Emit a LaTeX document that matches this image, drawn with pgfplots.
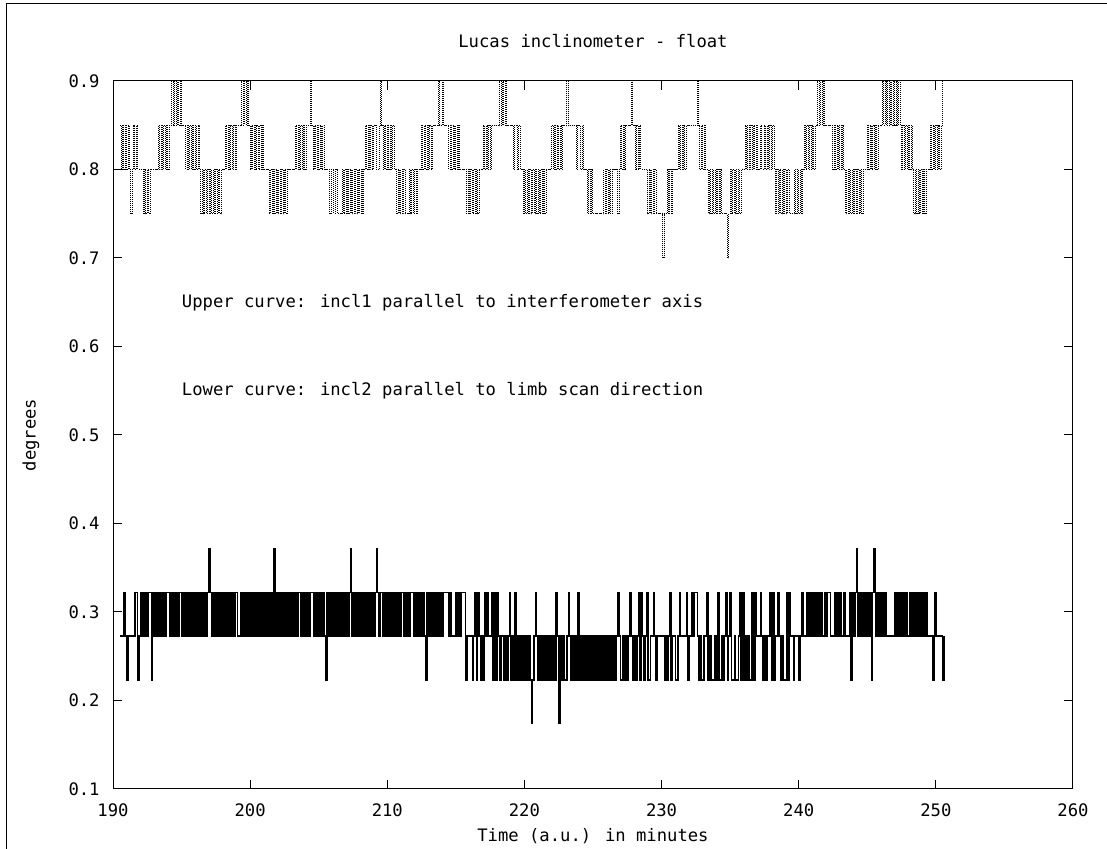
\documentclass[border=0pt]{standalone}
\usepackage{pgfplots}
\pgfplotsset{compat=1.18}
\usepackage{pgfplotstable}
\usepackage{fontspec}
\setmainfont{DejaVu Sans Mono}

% incl1 (parallel to interferometer axis), one reading every 0.1 min from t = 190.5
\pgfplotstableread[row sep=\\]{
y\\
0.85\\0.80\\0.85\\0.80\\0.85\\0.80\\0.85\\0.80\\0.75\\0.80\\
0.85\\0.80\\0.85\\0.80\\0.80\\0.80\\0.80\\0.75\\0.80\\0.75\\
0.80\\0.75\\0.80\\0.80\\0.80\\0.80\\0.80\\0.80\\0.85\\0.80\\
0.85\\0.80\\0.85\\0.80\\0.85\\0.80\\0.85\\0.85\\0.90\\0.85\\
0.90\\0.85\\0.90\\0.85\\0.90\\0.85\\0.85\\0.85\\0.80\\0.85\\
0.80\\0.85\\0.80\\0.85\\0.80\\0.85\\0.80\\0.85\\0.80\\0.75\\
0.80\\0.75\\0.80\\0.75\\0.80\\0.75\\0.80\\0.75\\0.80\\0.75\\
0.80\\0.75\\0.80\\0.75\\0.80\\0.80\\0.80\\0.85\\0.80\\0.85\\
0.80\\0.85\\0.80\\0.85\\0.80\\0.85\\0.85\\0.85\\0.85\\0.90\\
0.85\\0.90\\0.85\\0.90\\0.85\\0.80\\0.85\\0.80\\0.85\\0.80\\
0.85\\0.80\\0.85\\0.80\\0.85\\0.80\\0.80\\0.80\\0.80\\0.75\\
0.80\\0.75\\0.80\\0.75\\0.80\\0.75\\0.80\\0.75\\0.80\\0.75\\
0.80\\0.75\\0.80\\0.80\\0.80\\0.80\\0.80\\0.80\\0.85\\0.80\\
0.85\\0.80\\0.85\\0.80\\0.85\\0.80\\0.85\\0.85\\0.85\\0.90\\
0.85\\0.80\\0.85\\0.80\\0.85\\0.80\\0.85\\0.80\\0.85\\0.80\\
0.80\\0.80\\0.80\\0.75\\0.80\\0.80\\0.75\\0.80\\0.80\\0.75\\
0.75\\0.75\\0.80\\0.75\\0.80\\0.75\\0.80\\0.75\\0.80\\0.75\\
0.80\\0.75\\0.80\\0.75\\0.80\\0.75\\0.80\\0.75\\0.80\\0.85\\
0.80\\0.85\\0.80\\0.85\\0.80\\0.85\\0.85\\0.80\\0.80\\0.85\\
0.90\\0.85\\0.80\\0.85\\0.80\\0.85\\0.80\\0.85\\0.80\\0.85\\
0.80\\0.80\\0.75\\0.80\\0.75\\0.80\\0.75\\0.80\\0.75\\0.75\\
0.75\\0.80\\0.75\\0.80\\0.75\\0.80\\0.75\\0.80\\0.80\\0.80\\
0.85\\0.80\\0.85\\0.80\\0.85\\0.80\\0.85\\0.80\\0.85\\0.85\\
0.85\\0.85\\0.90\\0.85\\0.85\\0.90\\0.85\\0.85\\0.85\\0.85\\
0.80\\0.85\\0.80\\0.85\\0.80\\0.85\\0.80\\0.85\\0.80\\0.80\\
0.80\\0.80\\0.80\\0.75\\0.80\\0.75\\0.80\\0.75\\0.80\\0.75\\
0.80\\0.75\\0.80\\0.80\\0.80\\0.85\\0.80\\0.85\\0.80\\0.85\\
0.80\\0.85\\0.85\\0.85\\0.85\\0.85\\0.85\\0.90\\0.85\\0.90\\
0.85\\0.90\\0.85\\0.85\\0.85\\0.85\\0.85\\0.80\\0.85\\0.85\\
0.80\\0.85\\0.80\\0.80\\0.75\\0.80\\0.75\\0.80\\0.75\\0.80\\
0.75\\0.80\\0.75\\0.80\\0.75\\0.80\\0.75\\0.80\\0.75\\0.80\\
0.75\\0.80\\0.80\\0.80\\0.80\\0.85\\0.80\\0.85\\0.80\\0.85\\
0.80\\0.85\\0.80\\0.85\\0.85\\0.85\\0.90\\0.85\\0.85\\0.85\\
0.85\\0.85\\0.85\\0.80\\0.85\\0.85\\0.80\\0.85\\0.80\\0.80\\
0.80\\0.75\\0.80\\0.75\\0.80\\0.75\\0.75\\0.75\\0.75\\0.75\\
0.75\\0.75\\0.75\\0.80\\0.75\\0.80\\0.75\\0.80\\0.75\\0.80\\
0.80\\0.80\\0.80\\0.75\\0.80\\0.85\\0.80\\0.85\\0.80\\0.85\\
0.85\\0.85\\0.85\\0.90\\0.85\\0.85\\0.80\\0.85\\0.80\\0.85\\
0.80\\0.80\\0.80\\0.80\\0.80\\0.75\\0.80\\0.75\\0.80\\0.75\\
0.80\\0.75\\0.75\\0.75\\0.75\\0.75\\0.70\\0.75\\0.75\\0.80\\
0.75\\0.80\\0.75\\0.80\\0.80\\0.80\\0.80\\0.85\\0.80\\0.85\\
0.80\\0.85\\0.80\\0.85\\0.85\\0.85\\0.85\\0.85\\0.85\\0.85\\
0.85\\0.90\\0.85\\0.80\\0.85\\0.80\\0.85\\0.80\\0.80\\0.75\\
0.80\\0.75\\0.80\\0.75\\0.80\\0.75\\0.80\\0.75\\0.80\\0.75\\
0.75\\0.75\\0.75\\0.70\\0.75\\0.80\\0.75\\0.80\\0.75\\0.80\\
0.75\\0.80\\0.75\\0.80\\0.80\\0.80\\0.85\\0.80\\0.85\\0.80\\
0.85\\0.80\\0.85\\0.80\\0.85\\0.80\\0.80\\0.85\\0.80\\0.80\\
0.85\\0.80\\0.85\\0.80\\0.85\\0.80\\0.85\\0.80\\0.75\\0.80\\
0.75\\0.80\\0.75\\0.80\\0.75\\0.80\\0.75\\0.80\\0.75\\0.75\\
0.75\\0.75\\0.80\\0.75\\0.80\\0.75\\0.80\\0.75\\0.80\\0.85\\
0.80\\0.85\\0.80\\0.85\\0.80\\0.85\\0.80\\0.85\\0.85\\0.90\\
0.85\\0.90\\0.85\\0.90\\0.85\\0.85\\0.85\\0.85\\0.85\\0.85\\
0.80\\0.85\\0.80\\0.85\\0.80\\0.85\\0.80\\0.85\\0.80\\0.75\\
0.80\\0.75\\0.80\\0.75\\0.80\\0.75\\0.80\\0.75\\0.80\\0.75\\
0.80\\0.75\\0.80\\0.80\\0.80\\0.85\\0.80\\0.85\\0.80\\0.85\\
0.80\\0.85\\0.80\\0.85\\0.85\\0.85\\0.90\\0.85\\0.90\\0.85\\
0.90\\0.85\\0.90\\0.85\\0.90\\0.85\\0.90\\0.85\\0.90\\0.85\\
0.80\\0.85\\0.80\\0.85\\0.80\\0.85\\0.80\\0.85\\0.80\\0.75\\
0.80\\0.75\\0.80\\0.75\\0.80\\0.75\\0.80\\0.75\\0.80\\0.80\\
0.80\\0.85\\0.80\\0.85\\0.80\\0.85\\0.80\\0.85\\0.80\\0.85\\
0.90\\
}\inclone

% incl2 (parallel to limb scan direction), same time base
\pgfplotstableread[row sep=\\]{
y\\
0.273\\0.273\\0.273\\0.322\\0.273\\0.223\\0.273\\0.273\\0.273\\0.273\\
0.273\\0.322\\0.322\\0.223\\0.273\\0.322\\0.273\\0.322\\0.273\\0.322\\
0.273\\0.322\\0.322\\0.223\\0.322\\0.273\\0.322\\0.273\\0.322\\0.273\\
0.322\\0.273\\0.322\\0.273\\0.322\\0.322\\0.273\\0.322\\0.273\\0.322\\
0.273\\0.322\\0.273\\0.322\\0.322\\0.273\\0.322\\0.273\\0.322\\0.273\\
0.322\\0.273\\0.322\\0.273\\0.322\\0.273\\0.322\\0.273\\0.322\\0.273\\
0.322\\0.273\\0.322\\0.273\\0.322\\0.372\\0.322\\0.273\\0.322\\0.273\\
0.322\\0.273\\0.322\\0.273\\0.322\\0.273\\0.322\\0.273\\0.322\\0.273\\
0.322\\0.273\\0.322\\0.273\\0.322\\0.322\\0.273\\0.273\\0.322\\0.273\\
0.322\\0.273\\0.322\\0.273\\0.322\\0.273\\0.322\\0.273\\0.322\\0.273\\
0.322\\0.273\\0.322\\0.273\\0.322\\0.273\\0.322\\0.273\\0.322\\0.273\\
0.322\\0.273\\0.372\\0.273\\0.322\\0.273\\0.322\\0.273\\0.322\\0.273\\
0.322\\0.273\\0.322\\0.273\\0.322\\0.273\\0.322\\0.273\\0.322\\0.273\\
0.322\\0.322\\0.273\\0.322\\0.273\\0.322\\0.273\\0.322\\0.273\\0.322\\
0.322\\0.273\\0.322\\0.273\\0.322\\0.273\\0.322\\0.273\\0.322\\0.273\\
0.223\\0.322\\0.273\\0.322\\0.273\\0.322\\0.273\\0.322\\0.273\\0.322\\
0.273\\0.322\\0.273\\0.322\\0.273\\0.322\\0.273\\0.322\\0.372\\0.273\\
0.322\\0.273\\0.322\\0.273\\0.322\\0.273\\0.322\\0.273\\0.322\\0.273\\
0.322\\0.273\\0.322\\0.273\\0.322\\0.273\\0.322\\0.372\\0.322\\0.273\\
0.322\\0.322\\0.273\\0.322\\0.273\\0.322\\0.273\\0.322\\0.273\\0.322\\
0.273\\0.322\\0.273\\0.322\\0.273\\0.322\\0.322\\0.273\\0.322\\0.273\\
0.322\\0.273\\0.322\\0.322\\0.273\\0.322\\0.273\\0.322\\0.273\\0.322\\
0.273\\0.322\\0.273\\0.223\\0.322\\0.273\\0.322\\0.273\\0.322\\0.273\\
0.322\\0.273\\0.322\\0.273\\0.322\\0.273\\0.322\\0.322\\0.322\\0.322\\
0.273\\0.322\\0.273\\0.273\\0.273\\0.322\\0.273\\0.322\\0.273\\0.322\\
0.322\\0.322\\0.223\\0.273\\0.273\\0.273\\0.273\\0.223\\0.273\\0.322\\
0.223\\0.322\\0.273\\0.223\\0.273\\0.223\\0.322\\0.273\\0.322\\0.273\\
0.273\\0.322\\0.223\\0.322\\0.223\\0.322\\0.273\\0.223\\0.273\\0.273\\
0.223\\0.273\\0.223\\0.273\\0.322\\0.223\\0.273\\0.223\\0.322\\0.223\\
0.273\\0.223\\0.273\\0.223\\0.273\\0.223\\0.273\\0.223\\0.273\\0.223\\
0.174\\0.223\\0.273\\0.322\\0.273\\0.223\\0.273\\0.223\\0.273\\0.223\\
0.273\\0.223\\0.273\\0.223\\0.273\\0.223\\0.273\\0.223\\0.322\\0.273\\
0.174\\0.273\\0.223\\0.273\\0.223\\0.223\\0.273\\0.322\\0.273\\0.223\\
0.273\\0.223\\0.273\\0.223\\0.322\\0.223\\0.273\\0.223\\0.273\\0.223\\
0.273\\0.223\\0.273\\0.223\\0.273\\0.223\\0.273\\0.223\\0.273\\0.223\\
0.273\\0.223\\0.273\\0.223\\0.273\\0.223\\0.273\\0.223\\0.273\\0.223\\
0.273\\0.223\\0.273\\0.322\\0.273\\0.223\\0.223\\0.273\\0.223\\0.273\\
0.223\\0.273\\0.322\\0.273\\0.223\\0.273\\0.223\\0.273\\0.322\\0.223\\
0.322\\0.273\\0.223\\0.273\\0.322\\0.223\\0.223\\0.273\\0.273\\0.322\\
0.273\\0.223\\0.273\\0.273\\0.273\\0.273\\0.273\\0.223\\0.273\\0.223\\
0.273\\0.322\\0.223\\0.273\\0.273\\0.223\\0.223\\0.273\\0.322\\0.273\\
0.273\\0.273\\0.273\\0.322\\0.223\\0.273\\0.273\\0.322\\0.273\\0.322\\
0.322\\0.273\\0.223\\0.273\\0.223\\0.223\\0.273\\0.273\\0.322\\0.223\\
0.273\\0.223\\0.223\\0.223\\0.273\\0.223\\0.322\\0.223\\0.223\\0.273\\
0.223\\0.273\\0.322\\0.223\\0.273\\0.322\\0.223\\0.223\\0.273\\0.223\\
0.223\\0.273\\0.322\\0.223\\0.322\\0.223\\0.273\\0.223\\0.273\\0.223\\
0.223\\0.322\\0.223\\0.322\\0.273\\0.273\\0.273\\0.322\\0.273\\0.223\\
0.273\\0.223\\0.273\\0.273\\0.322\\0.223\\0.322\\0.223\\0.273\\0.273\\
0.322\\0.273\\0.223\\0.273\\0.223\\0.223\\0.322\\0.223\\0.322\\0.273\\
0.273\\0.223\\0.273\\0.273\\0.273\\0.223\\0.273\\0.322\\0.273\\0.273\\
0.273\\0.322\\0.273\\0.322\\0.273\\0.322\\0.273\\0.322\\0.273\\0.322\\
0.273\\0.322\\0.273\\0.273\\0.322\\0.273\\0.322\\0.322\\0.273\\0.273\\
0.273\\0.322\\0.273\\0.322\\0.273\\0.322\\0.273\\0.273\\0.322\\0.273\\
0.273\\0.273\\0.322\\0.223\\0.322\\0.273\\0.322\\0.372\\0.273\\0.322\\
0.273\\0.322\\0.273\\0.322\\0.273\\0.322\\0.273\\0.322\\0.223\\0.322\\
0.372\\0.273\\0.322\\0.273\\0.322\\0.273\\0.322\\0.273\\0.322\\0.273\\
0.273\\0.273\\0.273\\0.273\\0.273\\0.322\\0.273\\0.322\\0.273\\0.322\\
0.273\\0.322\\0.273\\0.322\\0.273\\0.273\\0.322\\0.273\\0.322\\0.273\\
0.322\\0.273\\0.322\\0.273\\0.322\\0.273\\0.322\\0.273\\0.322\\0.273\\
0.273\\0.273\\0.273\\0.223\\0.322\\0.273\\0.273\\0.273\\0.273\\0.273\\
0.223\\0.273\\
}\incltwo

\begin{document}
\begin{tikzpicture}[font=\fontsize{8.6}{10}\selectfont]
\path[use as bounding box] (0,0) rectangle (553.5pt,424.5pt);
\draw[line width=0.5pt] (3.25pt,0pt) -- (3.25pt,422.5pt) -- (553.5pt,422.5pt);
\begin{axis}[
  at={(56.5pt,30pt)}, anchor=south west,
  width=480pt, height=354pt, scale only axis,
  xmin=190, xmax=260, ymin=0.1, ymax=0.9,
  xtick={190,200,210,220,230,240,250,260},
  ytick={0.1,0.2,0.3,0.4,0.5,0.6,0.7,0.8,0.9},
  /pgf/number format/assume math mode=true,
  yticklabel style={/pgf/number format/fixed, /pgf/number format/fixed zerofill,
    /pgf/number format/precision=1, anchor=east, inner sep=0pt, xshift=-6.5pt},
  xticklabel style={/pgf/number format/fixed, /pgf/number format/precision=0,
    /pgf/number format/1000 sep={}, anchor=center, inner sep=0pt, yshift=-10.5pt},
  tick align=inside,
  major tick length=4.5pt,
  tick style={line width=0.5pt, black},
  axis line style={line width=0.5pt, black},
  title={Lucas inclinometer - float},
  title style={at={(axis description cs:0.5,1.0395)}, anchor=center, inner sep=0pt},
  xlabel={Time (a.u.) in minutes},
  xlabel style={at={(axis description cs:0.5,-0.0664)}, anchor=center, inner sep=0pt},
  ylabel={degrees},
  ylabel style={at={(axis description cs:-0.0854,0.5)}, anchor=center, inner sep=0pt},
]
% incl1: thin dotted trace
\addplot[const plot, black, line width=0.5pt, dash pattern=on 0.5pt off 0.5pt]
  table[x expr={190.5+0.1*\coordindex}, y=y] {\inclone};
% incl2: solid trace
\addplot[const plot, black, line width=0.7pt]
  table[x expr={190.5+0.1*\coordindex}, y=y] {\incltwo};
\node[anchor=west, inner sep=0pt] at (axis cs:195,0.65)
  {Upper curve: incl1 parallel to interferometer axis};
\node[anchor=west, inner sep=0pt] at (axis cs:195,0.55)
  {Lower curve: incl2 parallel to limb scan direction};
\end{axis}
\end{tikzpicture}
\end{document}
